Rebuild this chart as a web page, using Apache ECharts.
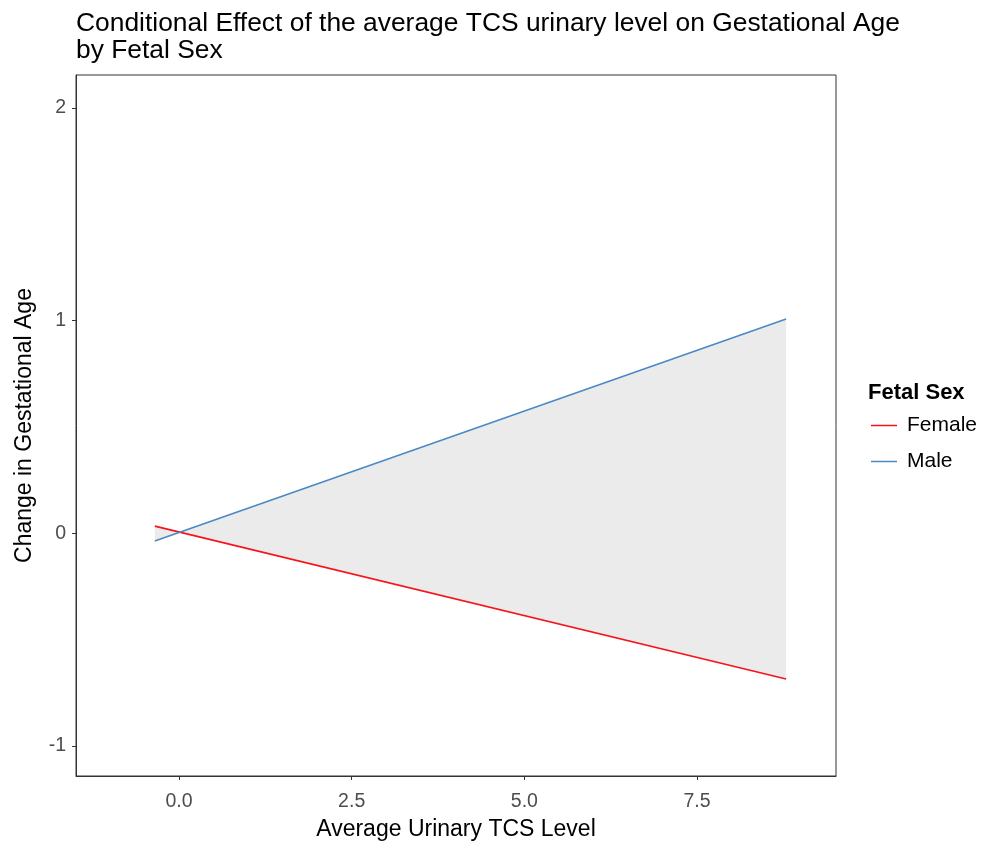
<!DOCTYPE html>
<html>
<head>
<meta charset="utf-8">
<title>Conditional Effect by Fetal Sex</title>
<script src="https://cdn.jsdelivr.net/npm/echarts@6/dist/echarts.min.js"></script>
<style>
  html, body { margin: 0; padding: 0; background: #ffffff; }
  #chart { width: 986px; height: 846px; }
</style>
</head>
<body>
<div id="chart"></div>
<script>
// Average urinary TCS level (x) and fitted change in gestational age per fetal sex
const tcsLevel = [-0.35, 8.79];
const femaleEffect = [0.034, -0.685];
const maleEffect = [-0.036, 1.008];

const xTicks = [0, 2.5, 5, 7.5];
const yTicks = [-1, 0, 1, 2];

const seriesNames = ['Female', 'Male'];
const seriesColors = ['#F8131B', '#4A88C6'];

const FONT = '"Liberation Sans", Arial, sans-serif';

const chart = echarts.init(document.getElementById('chart'), null, { renderer: 'canvas' });

// Shaded band between the two fitted lines
function renderBand(params, api) {
  const upper = [];
  const lower = [];
  for (let i = 0; i < tcsLevel.length; i++) {
    upper.push(api.coord([tcsLevel[i], maleEffect[i]]));
    lower.push(api.coord([tcsLevel[i], femaleEffect[i]]));
  }
  const points = upper.concat(lower.reverse());
  return {
    type: 'polygon',
    shape: { points: points },
    style: { fill: '#EBEBEB', stroke: null }
  };
}

const option = {
  backgroundColor: '#ffffff',
  animation: false,
  textStyle: { fontFamily: FONT },
  title: {
    text: 'Conditional Effect of the average TCS urinary level on Gestational Age\nby Fetal Sex',
    left: 71,
    top: 5,
    textStyle: {
      fontFamily: FONT,
      fontSize: 26.4,
      fontWeight: 'normal',
      color: '#000000',
      lineHeight: 27
    }
  },
  grid: {
    left: 76,
    right: 150,
    top: 75,
    bottom: 69,
    show: true,
    borderColor: '#333333',
    borderWidth: 1,
    backgroundColor: '#ffffff'
  },
  legend: {
    data: seriesNames,
    orient: 'vertical',
    left: 866,
    top: 409,
    icon: 'rect',
    itemWidth: 26,
    itemHeight: 1.5,
    itemGap: 13,
    textStyle: { fontFamily: FONT, fontSize: 21, color: '#000000', lineHeight: 23, padding: [0, 0, 0, 5] }
  },
  graphic: [{
    type: 'text',
    left: 868,
    top: 382,
    style: { text: 'Fetal Sex', font: 'bold 22px ' + FONT, fill: '#000000' }
  }],
  xAxis: {
    type: 'value',
    min: -1.491,
    max: 9.512,
    name: 'Average Urinary TCS Level',
    nameLocation: 'middle',
    nameGap: 42,
    nameTextStyle: { fontFamily: FONT, fontSize: 23, color: '#000000' },
    axisLine: { show: true, onZero: false, lineStyle: { color: '#333333', width: 1 } },
    splitLine: { show: false },
    axisTick: {
      show: true,
      length: 4,
      customValues: xTicks,
      lineStyle: { color: '#333333', width: 1 }
    },
    axisLabel: {
      customValues: xTicks,
      fontFamily: FONT,
      fontSize: 19.5,
      color: '#4D4D4D',
      margin: 16,
      formatter: v => v.toFixed(1)
    }
  },
  yAxis: {
    type: 'value',
    min: -1.141,
    max: 2.155,
    name: 'Change in Gestational Age',
    nameLocation: 'middle',
    nameGap: 40,
    nameTextStyle: { fontFamily: FONT, fontSize: 23, color: '#000000' },
    axisLine: { show: true, onZero: false, lineStyle: { color: '#333333', width: 1 } },
    splitLine: { show: false },
    axisTick: {
      show: true,
      length: 4,
      customValues: yTicks,
      lineStyle: { color: '#333333', width: 1 }
    },
    axisLabel: {
      customValues: yTicks,
      fontFamily: FONT,
      fontSize: 19.5,
      color: '#4D4D4D',
      margin: 10,
      formatter: v => String(v)
    }
  },
  series: [
    {
      name: 'band',
      type: 'custom',
      renderItem: renderBand,
      data: [[tcsLevel[0], femaleEffect[0]]],
      silent: true,
      z: 1
    },
    {
      name: seriesNames[0],
      type: 'line',
      data: tcsLevel.map((x, i) => [x, femaleEffect[i]]),
      showSymbol: false,
      lineStyle: { color: seriesColors[0], width: 1.6 },
      itemStyle: { color: seriesColors[0] },
      z: 3
    },
    {
      name: seriesNames[1],
      type: 'line',
      data: tcsLevel.map((x, i) => [x, maleEffect[i]]),
      showSymbol: false,
      lineStyle: { color: seriesColors[1], width: 1.6 },
      itemStyle: { color: seriesColors[1] },
      z: 3
    }
  ]
};

chart.setOption(option);
</script>
</body>
</html>
